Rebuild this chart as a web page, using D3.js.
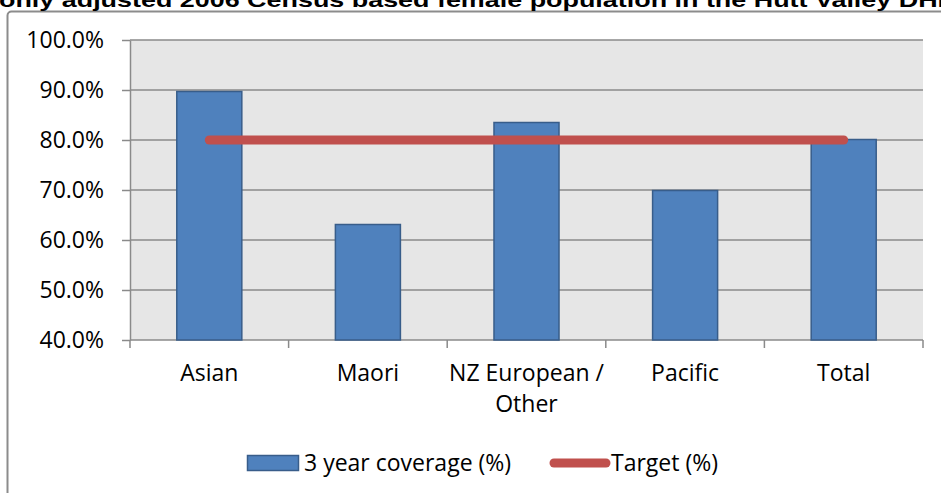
<!DOCTYPE html>
<html>
<head>
<meta charset="utf-8">
<script src="https://cdn.jsdelivr.net/npm/d3@7"></script>
<style>
  body { margin: 0; background: #fff; overflow: hidden; }
  svg { display: block; }
</style>
</head>
<body>
<div id="chart"></div>
<script>
// chart data
var categories = ["Asian", "Maori", "NZ European / Other", "Pacific", "Total"];
var coverage = [0.897, 0.631, 0.835, 0.699, 0.801];
var target = [0.80, 0.80, 0.80, 0.80, 0.80];
var yTicks = [0.4, 0.5, 0.6, 0.7, 0.8, 0.9, 1.0];
var seriesNames = ["3 year coverage (%)", "Target (%)"];
var titleText = "only adjusted 2006 Census based female population in the Hutt Valley DHB";

var WIDTH = 941,
	HEIGHT = 493,
	MARGINS = { top: 40, bottom: 153, left: 130, right: 18 };

var FONT = "'Open Sans', sans-serif";
var FS = "23px ";

var svg = d3.select("#chart").append("svg")
	.attr("width", WIDTH)
	.attr("height", HEIGHT);

// outer chart frame (continues past the picture on the right and bottom)
svg.append("rect")
	.attr("x", 7.5).attr("y", 11.5)
	.attr("width", WIDTH + 20).attr("height", HEIGHT + 20)
	.attr("rx", 4)
	.attr("fill", "#fff")
	.attr("stroke", "#8c8c8c")
	.attr("stroke-width", 2);

// title, clipped by the top of the picture as in the source
svg.append("text")
	.attr("x", -1).attr("y", 7)
	.attr("textLength", 958)
	.attr("lengthAdjust", "spacingAndGlyphs")
	.style("font", "bold 21px 'Liberation Sans', Arial, sans-serif")
	.attr("fill", "#000")
	.text(titleText);

// scales
var xScale = d3.scaleBand()
	.domain(categories)
	.range([MARGINS.left, WIDTH - MARGINS.right])
	.paddingInner(0.59)
	.paddingOuter(0.295);

var yScale = d3.scaleLinear()
	.domain([0.4, 1.0])
	.range([HEIGHT - MARGINS.bottom, MARGINS.top]);

var x0 = MARGINS.left, x1 = WIDTH - MARGINS.right;
var y0 = yScale(0.4), y1 = yScale(1.0);

// plot background
svg.append("rect")
	.attr("x", x0).attr("y", y1)
	.attr("width", x1 - x0).attr("height", y0 - y1)
	.attr("fill", "#e6e6e6");

// gridlines
svg.append("g").selectAll("line")
	.data(yTicks.slice(1))
	.enter().append("line")
	.attr("x1", x0).attr("x2", x1)
	.attr("y1", function(d) { return yScale(d); })
	.attr("y2", function(d) { return yScale(d); })
	.attr("stroke", "#8a8a8a")
	.attr("stroke-width", 1.5);

// y axis
var yAxis = svg.append("g")
	.attr("transform", "translate(" + x0 + ",0)")
	.call(d3.axisLeft(yScale)
		.tickValues(yTicks)
		.tickFormat(d3.format(".1%"))
		.tickSize(8)
		.tickSizeOuter(0)
		.tickPadding(18));
yAxis.selectAll("line, path").attr("stroke", "#8a8a8a").attr("stroke-width", 1.5);
yAxis.selectAll("text")
	.style("font", FS + FONT)
	.attr("fill", "#000")
	.attr("dy", "0.34em");

// x axis line and category boundary ticks
svg.append("line")
	.attr("x1", x0).attr("x2", x1)
	.attr("y1", y0).attr("y2", y0)
	.attr("stroke", "#8a8a8a").attr("stroke-width", 1.5);

var step = xScale.step();
svg.append("g").selectAll("line")
	.data(d3.range(categories.length + 1))
	.enter().append("line")
	.attr("x1", function(i) { return x0 + i * step; })
	.attr("x2", function(i) { return x0 + i * step; })
	.attr("y1", y0).attr("y2", y0 + 8)
	.attr("stroke", "#8a8a8a").attr("stroke-width", 1.5);

// category labels, wrapped after "/"
var labels = svg.append("g").selectAll("text")
	.data(categories)
	.enter().append("text")
	.attr("x", function(d) { return xScale(d) + xScale.bandwidth() / 2; })
	.attr("y", y0 + 41)
	.attr("text-anchor", "middle")
	.style("font", FS + FONT)
	.attr("fill", "#000");

labels.each(function(d) {
	var parts = d.indexOf("/ ") >= 0 ? [d.slice(0, d.indexOf("/ ") + 1), d.slice(d.indexOf("/ ") + 2)] : [d];
	var t = d3.select(this);
	var cx = t.attr("x");
	parts.forEach(function(p, i) {
		t.append("tspan").attr("x", cx).attr("dy", i == 0 ? 0 : 31).text(p);
	});
});

// bars
svg.append("g").selectAll("rect")
	.data(categories)
	.enter().append("rect")
	.attr("x", function(d) { return xScale(d); })
	.attr("y", function(d, i) { return yScale(coverage[i]); })
	.attr("width", xScale.bandwidth())
	.attr("height", function(d, i) { return y0 - yScale(coverage[i]); })
	.attr("fill", "#4f81bd")
	.attr("stroke", "#385d8a")
	.attr("stroke-width", 1.5);

// target line
var lineGen = d3.line()
	.x(function(d, i) { return xScale(categories[i]) + xScale.bandwidth() / 2; })
	.y(function(d) { return yScale(d); });

svg.append("path")
	.datum(target)
	.attr("d", lineGen)
	.attr("fill", "none")
	.attr("stroke", "#c0504d")
	.attr("stroke-width", 9)
	.attr("stroke-linecap", "round");

// legend
var legend = svg.append("g");
legend.append("rect")
	.attr("x", 247.5).attr("y", 455.5)
	.attr("width", 51).attr("height", 15)
	.attr("fill", "#4f81bd")
	.attr("stroke", "#385d8a")
	.attr("stroke-width", 1.5);
legend.append("text")
	.attr("x", 304).attr("y", 471)
	.style("font", FS + FONT)
	.attr("fill", "#000")
	.text(seriesNames[0]);
legend.append("line")
	.attr("x1", 554).attr("x2", 606)
	.attr("y1", 463).attr("y2", 463)
	.attr("stroke", "#c0504d")
	.attr("stroke-width", 9)
	.attr("stroke-linecap", "round");
legend.append("text")
	.attr("x", 611).attr("y", 471)
	.style("font", FS + FONT)
	.attr("fill", "#000")
	.text(seriesNames[1]);
</script>
</body>
</html>
